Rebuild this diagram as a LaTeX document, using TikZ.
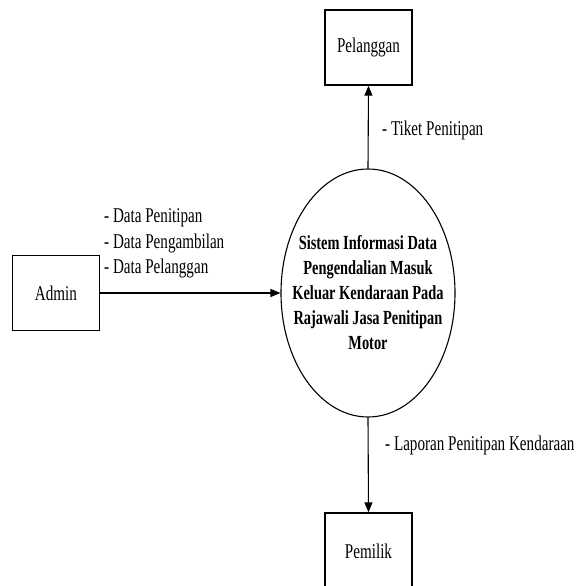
\documentclass[tikz,border=0pt]{standalone}
\usepackage{fontspec}
\setmainfont{Liberation Serif}[FakeStretch=0.72]
\usetikzlibrary{arrows.meta,shapes.geometric}
\begin{document}
\begin{tikzpicture}[x=1pt,y=-1pt,
  entity/.style={draw,line width=1.4pt,minimum width=87pt,minimum height=75pt,inner sep=0pt,font=\fontsize{21}{25}\selectfont},
  proc/.style={draw,line width=1.1pt,ellipse,minimum width=174pt,minimum height=248pt,inner sep=0pt},
  proctext/.style={align=center,inner sep=0pt,font=\bfseries\fontsize{20}{25}\selectfont},
  flow/.style={line width=1.1pt,-{Triangle[length=10pt,width=8pt]}},
  lbl/.style={anchor=west,inner sep=0pt,font=\fontsize{21}{25}\selectfont}]
\useasboundingbox (0,0) rectangle (582,586);
\node[proc] (sys) at (368,293) {};
\node[proctext] (systxt) at (368,293) {Sistem Informasi Data\\Pengendalian Masuk\\Keluar Kendaraan Pada\\Rajawali Jasa Penitipan\\Motor};
\node[entity] (pel) at (368.5,47.5) {Pelanggan};
\node[entity] (adm) at (56,293) {Admin};
\node[entity,minimum height=76pt] (pem) at (368.5,551) {Pemilik};
\draw[flow] (sys.north) -- (pel.south);
\draw[flow] (adm.east) -- (sys.west);
\draw[flow] (sys.south) -- (pem.north);
\node[lbl] (t1) at (382,130) {- Tiket Penitipan};
\node[lbl] (d1) at (104,218) {- Data Penitipan};
\node[lbl] (d2) at (104,243) {- Data Pengambilan};
\node[lbl] (d3) at (104,268) {- Data Pelanggan};
\node[lbl] (l1) at (385,445) {- Laporan Penitipan Kendaraan};
\end{tikzpicture}
\end{document}
